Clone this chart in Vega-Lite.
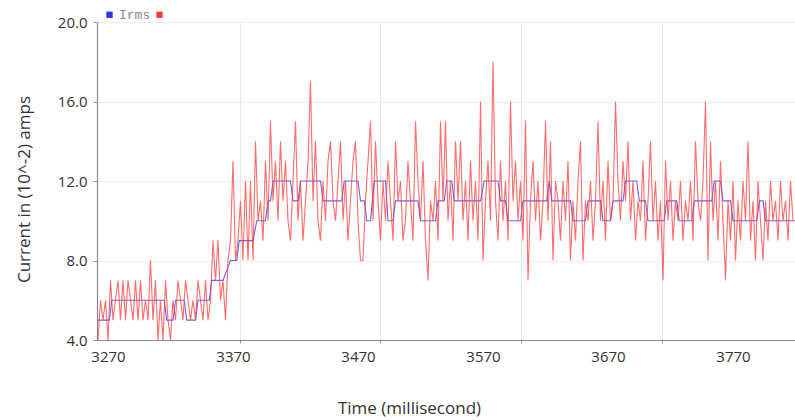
{
  "$schema": "https://vega.github.io/schema/vega-lite/v6.json",
  "autosize": {"type": "none"},
  "padding": {"left": 97, "top": 22, "right": 0, "bottom": 80},
  "width": 698,
  "height": 318,
  "background": "white",
  "config": {"font": "Open Sans", "view": {"stroke": null}},
  "data": {"values": [
    {"t":3262,"v":5,"s":"Irms"},{"t":3271,"v":5,"s":"Irms"},{"t":3273,"v":6,"s":"Irms"},{"t":3315,"v":6,"s":"Irms"},{"t":3317,"v":5,"s":"Irms"},{"t":3322,"v":5,"s":"Irms"},{"t":3324,"v":6,"s":"Irms"},{"t":3331,"v":6,"s":"Irms"},{"t":3333,"v":5,"s":"Irms"},{"t":3340,"v":5,"s":"Irms"},{"t":3342,"v":6,"s":"Irms"},{"t":3351,"v":6,"s":"Irms"},{"t":3353,"v":7,"s":"Irms"},{"t":3362,"v":7,"s":"Irms"},{"t":3368,"v":8,"s":"Irms"},{"t":3373,"v":8,"s":"Irms"},{"t":3375,"v":9,"s":"Irms"},{"t":3386,"v":9,"s":"Irms"},{"t":3389,"v":10,"s":"Irms"},{"t":3396,"v":10,"s":"Irms"},{"t":3398,"v":11,"s":"Irms"},{"t":3400,"v":11,"s":"Irms"},{"t":3402,"v":12,"s":"Irms"},{"t":3416,"v":12,"s":"Irms"},{"t":3418,"v":11,"s":"Irms"},{"t":3422,"v":11,"s":"Irms"},{"t":3424,"v":12,"s":"Irms"},{"t":3440,"v":12,"s":"Irms"},{"t":3442,"v":11,"s":"Irms"},{"t":3457,"v":11,"s":"Irms"},{"t":3459,"v":12,"s":"Irms"},{"t":3470,"v":12,"s":"Irms"},{"t":3472,"v":11,"s":"Irms"},{"t":3475,"v":11,"s":"Irms"},{"t":3477,"v":10,"s":"Irms"},{"t":3480,"v":10,"s":"Irms"},{"t":3483,"v":12,"s":"Irms"},{"t":3492,"v":12,"s":"Irms"},{"t":3494,"v":10,"s":"Irms"},{"t":3498,"v":10,"s":"Irms"},{"t":3500,"v":11,"s":"Irms"},{"t":3518,"v":11,"s":"Irms"},{"t":3520,"v":10,"s":"Irms"},{"t":3532,"v":10,"s":"Irms"},{"t":3534,"v":11,"s":"Irms"},{"t":3539,"v":11,"s":"Irms"},{"t":3541,"v":12,"s":"Irms"},{"t":3545,"v":12,"s":"Irms"},{"t":3547,"v":11,"s":"Irms"},{"t":3568,"v":11,"s":"Irms"},{"t":3571,"v":12,"s":"Irms"},{"t":3582,"v":12,"s":"Irms"},{"t":3584,"v":11,"s":"Irms"},{"t":3588,"v":11,"s":"Irms"},{"t":3590,"v":10,"s":"Irms"},{"t":3600,"v":10,"s":"Irms"},{"t":3602,"v":11,"s":"Irms"},{"t":3621,"v":11,"s":"Irms"},{"t":3623,"v":12,"s":"Irms"},{"t":3625,"v":11,"s":"Irms"},{"t":3640,"v":11,"s":"Irms"},{"t":3642,"v":10,"s":"Irms"},{"t":3652,"v":10,"s":"Irms"},{"t":3654,"v":11,"s":"Irms"},{"t":3664,"v":11,"s":"Irms"},{"t":3666,"v":10,"s":"Irms"},{"t":3672,"v":10,"s":"Irms"},{"t":3674,"v":11,"s":"Irms"},{"t":3682,"v":11,"s":"Irms"},{"t":3684,"v":12,"s":"Irms"},{"t":3693,"v":12,"s":"Irms"},{"t":3695,"v":11,"s":"Irms"},{"t":3700,"v":11,"s":"Irms"},{"t":3702,"v":10,"s":"Irms"},{"t":3715,"v":10,"s":"Irms"},{"t":3717,"v":11,"s":"Irms"},{"t":3725,"v":11,"s":"Irms"},{"t":3727,"v":10,"s":"Irms"},{"t":3737,"v":10,"s":"Irms"},{"t":3739,"v":11,"s":"Irms"},{"t":3753,"v":11,"s":"Irms"},{"t":3755,"v":12,"s":"Irms"},{"t":3760,"v":12,"s":"Irms"},{"t":3762,"v":11,"s":"Irms"},{"t":3768,"v":11,"s":"Irms"},{"t":3770,"v":10,"s":"Irms"},{"t":3789,"v":10,"s":"Irms"},{"t":3791,"v":11,"s":"Irms"},{"t":3794,"v":11,"s":"Irms"},{"t":3796,"v":10,"s":"Irms"},{"t":3820,"v":10,"s":"Irms"},
    {"t":3262,"v":4,"s":"Raw"},{"t":3264,"v":6,"s":"Raw"},{"t":3266,"v":5,"s":"Raw"},{"t":3268,"v":6,"s":"Raw"},{"t":3270,"v":4,"s":"Raw"},{"t":3272,"v":7,"s":"Raw"},{"t":3274,"v":5,"s":"Raw"},{"t":3276,"v":6,"s":"Raw"},{"t":3278,"v":7,"s":"Raw"},{"t":3280,"v":5,"s":"Raw"},{"t":3282,"v":7,"s":"Raw"},{"t":3284,"v":5,"s":"Raw"},{"t":3286,"v":7,"s":"Raw"},{"t":3288,"v":6,"s":"Raw"},{"t":3290,"v":5,"s":"Raw"},{"t":3292,"v":7,"s":"Raw"},{"t":3294,"v":5,"s":"Raw"},{"t":3296,"v":7,"s":"Raw"},{"t":3298,"v":5,"s":"Raw"},{"t":3300,"v":6,"s":"Raw"},{"t":3302,"v":5,"s":"Raw"},{"t":3304,"v":8,"s":"Raw"},{"t":3306,"v":5,"s":"Raw"},{"t":3308,"v":7,"s":"Raw"},{"t":3310,"v":4,"s":"Raw"},{"t":3312,"v":6,"s":"Raw"},{"t":3314,"v":4,"s":"Raw"},{"t":3316,"v":7,"s":"Raw"},{"t":3318,"v":5,"s":"Raw"},{"t":3320,"v":4,"s":"Raw"},
    {"t":3322,"v":6,"s":"Raw"},{"t":3324,"v":5,"s":"Raw"},{"t":3326,"v":7,"s":"Raw"},{"t":3328,"v":6,"s":"Raw"},{"t":3330,"v":5,"s":"Raw"},{"t":3332,"v":7,"s":"Raw"},{"t":3334,"v":6,"s":"Raw"},{"t":3336,"v":5,"s":"Raw"},{"t":3338,"v":6,"s":"Raw"},{"t":3340,"v":5,"s":"Raw"},{"t":3342,"v":7,"s":"Raw"},{"t":3344,"v":6,"s":"Raw"},{"t":3346,"v":5,"s":"Raw"},{"t":3348,"v":7,"s":"Raw"},{"t":3350,"v":5,"s":"Raw"},{"t":3352,"v":6,"s":"Raw"},{"t":3354,"v":9,"s":"Raw"},{"t":3356,"v":7,"s":"Raw"},{"t":3358,"v":9,"s":"Raw"},{"t":3360,"v":6,"s":"Raw"},{"t":3362,"v":7,"s":"Raw"},{"t":3364,"v":5,"s":"Raw"},{"t":3366,"v":8,"s":"Raw"},{"t":3368,"v":9,"s":"Raw"},{"t":3370,"v":13,"s":"Raw"},{"t":3372,"v":8,"s":"Raw"},{"t":3374,"v":9,"s":"Raw"},{"t":3376,"v":11,"s":"Raw"},{"t":3378,"v":8,"s":"Raw"},{"t":3380,"v":12,"s":"Raw"},{"t":3382,"v":8,"s":"Raw"},{"t":3384,"v":12,"s":"Raw"},{"t":3386,"v":8,"s":"Raw"},{"t":3388,"v":14,"s":"Raw"},{"t":3390,"v":10,"s":"Raw"},{"t":3392,"v":11,"s":"Raw"},{"t":3394,"v":9,"s":"Raw"},{"t":3396,"v":13,"s":"Raw"},{"t":3398,"v":10,"s":"Raw"},{"t":3400,"v":15,"s":"Raw"},
    {"t":3402,"v":11,"s":"Raw"},{"t":3404,"v":13,"s":"Raw"},{"t":3406,"v":10,"s":"Raw"},{"t":3408,"v":14,"s":"Raw"},{"t":3410,"v":11,"s":"Raw"},{"t":3412,"v":13,"s":"Raw"},{"t":3414,"v":10,"s":"Raw"},{"t":3416,"v":9,"s":"Raw"},{"t":3418,"v":12,"s":"Raw"},{"t":3420,"v":15,"s":"Raw"},{"t":3422,"v":10,"s":"Raw"},{"t":3424,"v":12,"s":"Raw"},{"t":3426,"v":9,"s":"Raw"},{"t":3428,"v":11,"s":"Raw"},{"t":3430,"v":13,"s":"Raw"},{"t":3432,"v":17,"s":"Raw"},{"t":3434,"v":11,"s":"Raw"},{"t":3436,"v":14,"s":"Raw"},{"t":3438,"v":10,"s":"Raw"},{"t":3440,"v":9,"s":"Raw"},{"t":3442,"v":12,"s":"Raw"},{"t":3444,"v":10,"s":"Raw"},{"t":3446,"v":13,"s":"Raw"},{"t":3448,"v":14,"s":"Raw"},{"t":3450,"v":11,"s":"Raw"},{"t":3452,"v":10,"s":"Raw"},{"t":3454,"v":12,"s":"Raw"},{"t":3456,"v":14,"s":"Raw"},{"t":3458,"v":10,"s":"Raw"},{"t":3460,"v":12,"s":"Raw"},{"t":3462,"v":9,"s":"Raw"},{"t":3464,"v":11,"s":"Raw"},{"t":3466,"v":13,"s":"Raw"},{"t":3468,"v":14,"s":"Raw"},{"t":3470,"v":10,"s":"Raw"},{"t":3472,"v":8,"s":"Raw"},{"t":3474,"v":8,"s":"Raw"},{"t":3476,"v":11,"s":"Raw"},{"t":3478,"v":13,"s":"Raw"},{"t":3480,"v":15,"s":"Raw"},{"t":3482,"v":10,"s":"Raw"},{"t":3484,"v":14,"s":"Raw"},{"t":3486,"v":11,"s":"Raw"},{"t":3488,"v":9,"s":"Raw"},{"t":3490,"v":12,"s":"Raw"},{"t":3492,"v":10,"s":"Raw"},{"t":3494,"v":13,"s":"Raw"},{"t":3496,"v":11,"s":"Raw"},{"t":3498,"v":9,"s":"Raw"},{"t":3500,"v":14,"s":"Raw"},
    {"t":3502,"v":11,"s":"Raw"},{"t":3504,"v":12,"s":"Raw"},{"t":3506,"v":9,"s":"Raw"},{"t":3508,"v":10,"s":"Raw"},{"t":3510,"v":13,"s":"Raw"},{"t":3512,"v":11,"s":"Raw"},{"t":3514,"v":9,"s":"Raw"},{"t":3516,"v":15,"s":"Raw"},{"t":3518,"v":12,"s":"Raw"},{"t":3520,"v":10,"s":"Raw"},{"t":3522,"v":13,"s":"Raw"},{"t":3524,"v":9,"s":"Raw"},{"t":3526,"v":7,"s":"Raw"},{"t":3528,"v":11,"s":"Raw"},{"t":3530,"v":10,"s":"Raw"},{"t":3532,"v":12,"s":"Raw"},{"t":3534,"v":9,"s":"Raw"},{"t":3536,"v":15,"s":"Raw"},{"t":3538,"v":11,"s":"Raw"},{"t":3540,"v":15,"s":"Raw"},{"t":3542,"v":10,"s":"Raw"},{"t":3544,"v":12,"s":"Raw"},{"t":3546,"v":9,"s":"Raw"},{"t":3548,"v":14,"s":"Raw"},{"t":3550,"v":11,"s":"Raw"},{"t":3552,"v":14,"s":"Raw"},{"t":3554,"v":10,"s":"Raw"},{"t":3556,"v":12,"s":"Raw"},{"t":3558,"v":9,"s":"Raw"},{"t":3560,"v":13,"s":"Raw"},{"t":3562,"v":10,"s":"Raw"},{"t":3564,"v":12,"s":"Raw"},{"t":3566,"v":9,"s":"Raw"},{"t":3568,"v":16,"s":"Raw"},{"t":3570,"v":8,"s":"Raw"},{"t":3572,"v":11,"s":"Raw"},{"t":3574,"v":13,"s":"Raw"},{"t":3576,"v":10,"s":"Raw"},{"t":3578,"v":18,"s":"Raw"},{"t":3580,"v":11,"s":"Raw"},{"t":3582,"v":9,"s":"Raw"},{"t":3584,"v":13,"s":"Raw"},{"t":3586,"v":10,"s":"Raw"},{"t":3588,"v":12,"s":"Raw"},{"t":3590,"v":9,"s":"Raw"},{"t":3592,"v":16,"s":"Raw"},{"t":3594,"v":11,"s":"Raw"},{"t":3596,"v":13,"s":"Raw"},{"t":3598,"v":10,"s":"Raw"},{"t":3600,"v":12,"s":"Raw"},
    {"t":3602,"v":9,"s":"Raw"},{"t":3604,"v":15,"s":"Raw"},{"t":3606,"v":7,"s":"Raw"},{"t":3608,"v":11,"s":"Raw"},{"t":3610,"v":13,"s":"Raw"},{"t":3612,"v":10,"s":"Raw"},{"t":3614,"v":12,"s":"Raw"},{"t":3616,"v":9,"s":"Raw"},{"t":3618,"v":11,"s":"Raw"},{"t":3620,"v":15,"s":"Raw"},{"t":3622,"v":10,"s":"Raw"},{"t":3624,"v":14,"s":"Raw"},{"t":3626,"v":8,"s":"Raw"},{"t":3628,"v":12,"s":"Raw"},{"t":3630,"v":11,"s":"Raw"},{"t":3632,"v":9,"s":"Raw"},{"t":3634,"v":12,"s":"Raw"},{"t":3636,"v":10,"s":"Raw"},{"t":3638,"v":13,"s":"Raw"},{"t":3640,"v":8,"s":"Raw"},{"t":3642,"v":11,"s":"Raw"},{"t":3644,"v":9,"s":"Raw"},{"t":3646,"v":12,"s":"Raw"},{"t":3648,"v":14,"s":"Raw"},{"t":3650,"v":8,"s":"Raw"},{"t":3652,"v":11,"s":"Raw"},{"t":3654,"v":10,"s":"Raw"},{"t":3656,"v":12,"s":"Raw"},{"t":3658,"v":9,"s":"Raw"},{"t":3660,"v":11,"s":"Raw"},{"t":3662,"v":15,"s":"Raw"},{"t":3664,"v":10,"s":"Raw"},{"t":3666,"v":12,"s":"Raw"},{"t":3668,"v":9,"s":"Raw"},{"t":3670,"v":13,"s":"Raw"},{"t":3672,"v":10,"s":"Raw"},{"t":3674,"v":11,"s":"Raw"},{"t":3676,"v":16,"s":"Raw"},{"t":3678,"v":12,"s":"Raw"},{"t":3680,"v":10,"s":"Raw"},{"t":3682,"v":13,"s":"Raw"},{"t":3684,"v":11,"s":"Raw"},{"t":3686,"v":14,"s":"Raw"},{"t":3688,"v":10,"s":"Raw"},{"t":3690,"v":12,"s":"Raw"},{"t":3692,"v":9,"s":"Raw"},{"t":3694,"v":11,"s":"Raw"},{"t":3696,"v":10,"s":"Raw"},{"t":3698,"v":13,"s":"Raw"},{"t":3700,"v":9,"s":"Raw"},
    {"t":3702,"v":11,"s":"Raw"},{"t":3704,"v":14,"s":"Raw"},{"t":3706,"v":10,"s":"Raw"},{"t":3708,"v":12,"s":"Raw"},{"t":3710,"v":9,"s":"Raw"},{"t":3712,"v":11,"s":"Raw"},{"t":3714,"v":7,"s":"Raw"},{"t":3716,"v":13,"s":"Raw"},{"t":3718,"v":10,"s":"Raw"},{"t":3720,"v":12,"s":"Raw"},{"t":3722,"v":9,"s":"Raw"},{"t":3724,"v":11,"s":"Raw"},{"t":3726,"v":10,"s":"Raw"},{"t":3728,"v":12,"s":"Raw"},{"t":3730,"v":9,"s":"Raw"},{"t":3732,"v":11,"s":"Raw"},{"t":3734,"v":10,"s":"Raw"},{"t":3736,"v":12,"s":"Raw"},{"t":3738,"v":9,"s":"Raw"},{"t":3740,"v":14,"s":"Raw"},{"t":3742,"v":11,"s":"Raw"},{"t":3744,"v":10,"s":"Raw"},{"t":3746,"v":12,"s":"Raw"},{"t":3748,"v":16,"s":"Raw"},{"t":3750,"v":8,"s":"Raw"},{"t":3752,"v":14,"s":"Raw"},{"t":3754,"v":10,"s":"Raw"},{"t":3756,"v":12,"s":"Raw"},{"t":3758,"v":9,"s":"Raw"},{"t":3760,"v":13,"s":"Raw"},{"t":3762,"v":10,"s":"Raw"},{"t":3764,"v":7,"s":"Raw"},{"t":3766,"v":11,"s":"Raw"},{"t":3768,"v":9,"s":"Raw"},{"t":3770,"v":12,"s":"Raw"},{"t":3772,"v":8,"s":"Raw"},{"t":3774,"v":11,"s":"Raw"},{"t":3776,"v":9,"s":"Raw"},{"t":3778,"v":12,"s":"Raw"},{"t":3780,"v":10,"s":"Raw"},{"t":3782,"v":14,"s":"Raw"},{"t":3784,"v":9,"s":"Raw"},{"t":3786,"v":11,"s":"Raw"},{"t":3788,"v":8,"s":"Raw"},{"t":3790,"v":12,"s":"Raw"},{"t":3792,"v":10,"s":"Raw"},{"t":3794,"v":8,"s":"Raw"},{"t":3796,"v":11,"s":"Raw"},{"t":3798,"v":9,"s":"Raw"},{"t":3800,"v":12,"s":"Raw"},{"t":3802,"v":10,"s":"Raw"},{"t":3804,"v":11,"s":"Raw"},{"t":3806,"v":9,"s":"Raw"},{"t":3808,"v":12,"s":"Raw"},{"t":3810,"v":10,"s":"Raw"},{"t":3812,"v":11,"s":"Raw"},{"t":3814,"v":9,"s":"Raw"},{"t":3816,"v":12,"s":"Raw"},{"t":3818,"v":10,"s":"Raw"}
  ]},
  "mark": {"type": "line", "strokeWidth": 1.1, "opacity": 0.75, "clip": true, "interpolate": "linear"},
  "encoding": {
    "x": {
      "field": "t", "type": "quantitative",
      "scale": {"domain": [3261.2, 3819.6], "nice": false, "zero": false},
      "axis": {
        "values": [3270, 3370, 3375.5, 3470, 3487.5, 3570, 3600.5, 3670, 3713.5, 3770],
        "format": "d",
        "labelExpr": "datum.value % 10 == 0 ? datum.label : ''",
        "grid": true,
        "gridColor": "#e6e6e6",
        "gridOpacity": {"condition": {"test": "datum.value % 10 != 0", "value": 1}, "value": 0},
        "tickOpacity": {"condition": {"test": "datum.value % 10 != 0", "value": 1}, "value": 0},
        "tickColor": "#999",
        "tickSize": 3,
        "domainColor": "#888",
        "domainWidth": 1.2,
        "labelFontSize": 15,
        "labelColor": "#333",
        "labelPadding": 6,
        "labelFlush": false,
        "labelOverlap": false,
        "title": "Time (millisecond)",
        "titleFontSize": 17,
        "titleFontWeight": "normal",
        "titleColor": "#333",
        "titleX": 312,
        "titleY": 68,
        "titleAlign": "center",
        "titleBaseline": "middle"
      }
    },
    "y": {
      "field": "v", "type": "quantitative",
      "scale": {"domain": [4, 20], "nice": false, "zero": false},
      "axis": {
        "values": [4, 8, 12, 16, 20],
        "format": ".1f",
        "grid": true,
        "gridColor": "#eeeeee",
        "tickColor": "#999",
        "tickSize": 4,
        "domainColor": "#888",
        "domainWidth": 1.2,
        "labelFontSize": 15,
        "labelColor": "#333",
        "labelPadding": 6,
        "title": "Current in (10^-2) amps",
        "titleFontSize": 17,
        "titleFontWeight": "normal",
        "titleColor": "#333",
        "titleX": -73,
        "titleY": 167,
        "titleAngle": -90,
        "titleAlign": "center",
        "titleBaseline": "middle"
      }
    },
    "color": {
      "field": "s", "type": "nominal",
      "scale": {"domain": ["Irms", "Raw"], "range": ["#2f2fff", "#ff3c3c"]},
      "legend": {
        "orient": "none",
        "legendX": 6,
        "legendY": -14,
        "direction": "horizontal",
        "title": null,
        "symbolType": "square",
        "symbolSize": 40,
        "symbolStrokeWidth": 0,
        "symbolOpacity": 1,
        "labelFont": "Liberation Mono",
        "labelFontSize": 13,
        "labelColor": "#888",
        "labelOffset": 3,
        "columnPadding": 2,
        "labelExpr": "datum.label == 'Irms' ? 'Irms' : ''",
        "encode": {"symbols": {"update": {"fill": {"scale": "color", "field": "value"}, "opacity": {"value": 1}}}}
      }
    }
  }
}
